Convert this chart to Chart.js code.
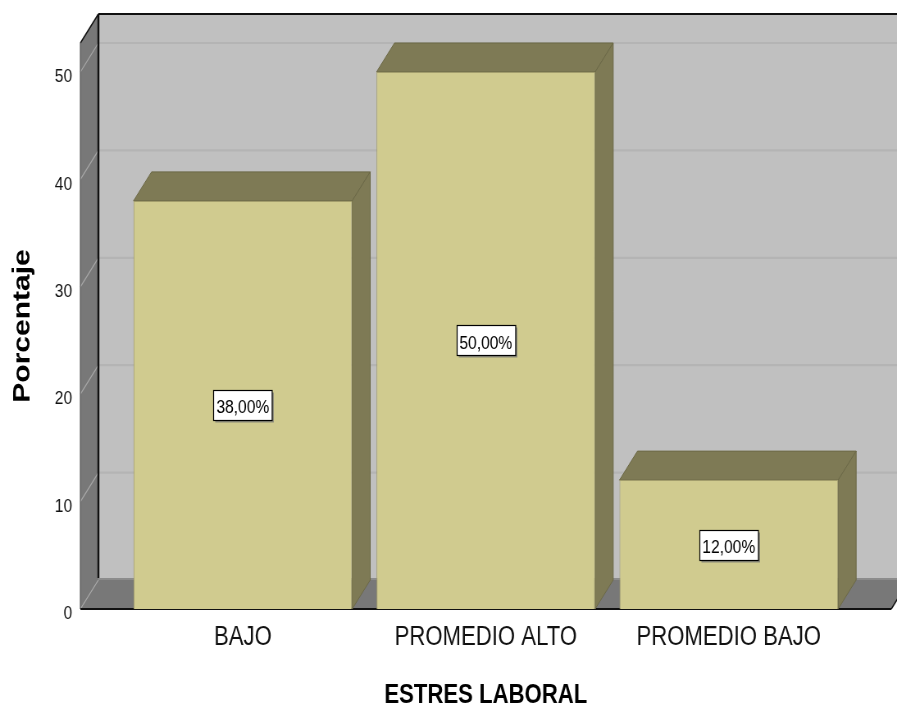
<!DOCTYPE html>
<html lang="es">
<head>
<meta charset="UTF-8">
<title>Estres laboral</title>
<script src="https://cdn.jsdelivr.net/npm/chart.js@4"></script>
<style>
  body { margin: 0; background: #fff; }
  #stressChart { display: block; }
</style>
</head>
<body>
<!-- drawn wide and shown narrower, which gives the condensed SPSS-style lettering -->
<canvas id="stressChart" width="1094" height="709" style="width:897px;height:709px"></canvas>
<script>
const categories = ['BAJO', 'PROMEDIO ALTO', 'PROMEDIO BAJO'];
const percentages = [38, 50, 12];
const yTicks = [0, 10, 20, 30, 40, 50];
const yAxisMax = 52.7;

const FONT = "'Liberation Sans', Arial, sans-serif";
const DX = 22, DY = 29, FRAME_PAD = 50;
const FRONT = '#d0cb8f', SHADE = '#7e7a55';
const WALL = '#c0c0c0', SIDE_WALL = '#787878';

function poly(ctx, pts, fill, stroke) {
  ctx.beginPath();
  ctx.moveTo(pts[0][0], pts[0][1]);
  for (let i = 1; i < pts.length; i++) ctx.lineTo(pts[i][0], pts[i][1]);
  ctx.closePath();
  ctx.fillStyle = fill;
  ctx.fill();
  if (stroke) { ctx.strokeStyle = stroke; ctx.lineWidth = 1; ctx.stroke(); }
}

function line(ctx, x1, y1, x2, y2, color, w) {
  ctx.beginPath();
  ctx.moveTo(x1, y1);
  ctx.lineTo(x2, y2);
  ctx.strokeStyle = color;
  ctx.lineWidth = w;
  ctx.stroke();
}

// walls, floor and the shaded faces of each bar
const box3d = {
  id: 'box3d',
  beforeDatasetsDraw(chart) {
    const { ctx, chartArea: a, scales: { y } } = chart;
    const fl = a.left - FRAME_PAD, fr = a.right + FRAME_PAD;
    const top = a.top, bot = a.bottom;
    const far = chart.width + 10;
    ctx.save();

    ctx.fillStyle = WALL;
    ctx.fillRect(fl + DX, top - DY, far - fl, bot - top);
    y.ticks.forEach(t => {
      if (t.value === 0) return;
      const py = y.getPixelForValue(t.value) - DY;
      line(ctx, fl + DX, py, far, py, '#b4b4b4', 2.2);
    });

    poly(ctx, [[fl, top], [fl + DX, top - DY], [fl + DX, bot - DY], [fl, bot]], SIDE_WALL);
    poly(ctx, [[fl, bot], [fl + DX, bot - DY], [fr + DX, bot - DY], [fr, bot]], SIDE_WALL);
    line(ctx, fl + DX, bot - DY - 1, far, bot - DY - 1, '#8c8c8c', 2);

    y.ticks.forEach(t => {
      const py = y.getPixelForValue(t.value);
      line(ctx, fl, py, fl + DX, py - DY, '#a8a8a8', 1.2);
    });

    line(ctx, fl + DX, top - DY, far, top - DY, '#111', 2);
    line(ctx, fl + DX, top - DY, fl + DX, bot - DY - 2, '#111', 2.4);
    line(ctx, fl, top, fl + DX, top - DY, '#111', 1.5);
    line(ctx, fl, top, fl, bot, '#555', 1.2);
    line(ctx, fl, bot, fr, bot, '#111', 2);
    line(ctx, fr, bot, fr + DX, bot - DY, '#111', 1.5);

    chart.getDatasetMeta(0).data.forEach(bar => {
      const l = bar.x - bar.width / 2, r = bar.x + bar.width / 2;
      poly(ctx, [[l, bar.y], [l + DX, bar.y - DY], [r + DX, bar.y - DY], [r, bar.y]], SHADE, '#6c6947');
      poly(ctx, [[r, bar.y], [r + DX, bar.y - DY], [r + DX, bar.base - DY], [r, bar.base]], SHADE, '#6c6947');
    });
    ctx.restore();
  },
  afterDatasetsDraw(chart) {
    const { ctx } = chart;
    const values = chart.data.datasets[0].data;
    ctx.save();
    ctx.font = '19px ' + FONT;
    ctx.textAlign = 'center';
    ctx.textBaseline = 'middle';
    chart.getDatasetMeta(0).data.forEach((bar, i) => {
      const text = values[i].toFixed(2).replace('.', ',') + '%';
      const w = ctx.measureText(text).width + 7, h = 30;
      const cx = bar.x, cy = (bar.y + bar.base) / 2;
      const bx = Math.round(cx - w / 2) + 0.5, by = Math.round(cy - h / 2) + 0.5;
      ctx.fillStyle = '#8a8a7a';
      ctx.fillRect(bx + 2, by + 2, w, h);
      ctx.fillStyle = '#fff';
      ctx.fillRect(bx, by, w, h);
      ctx.strokeStyle = '#000';
      ctx.lineWidth = 1.2;
      ctx.strokeRect(bx, by, w, h);
      ctx.fillStyle = '#000';
      ctx.fillText(text, cx, cy + 3);
    });
    ctx.restore();
  }
};

new Chart(document.getElementById('stressChart'), {
  type: 'bar',
  data: {
    labels: categories,
    datasets: [{
      data: percentages,
      backgroundColor: FRONT,
      borderColor: '#a29d6c',
      borderWidth: 1,
      categoryPercentage: 0.9,
      barPercentage: 1.0
    }]
  },
  options: {
    responsive: false,
    animation: false,
    devicePixelRatio: 1,
    layout: { padding: { top: 43, right: 57, bottom: 0, left: 0 } },
    plugins: {
      legend: { display: false },
      tooltip: { enabled: false }
    },
    scales: {
      x: {
        grid: { display: false, drawTicks: false },
        border: { display: false },
        ticks: { color: '#111', font: { family: FONT, size: 27 }, padding: 12 },
        title: {
          display: true,
          text: 'ESTRES LABORAL',
          color: '#000',
          font: { family: FONT, size: 27, weight: 'bold', lineHeight: 1 },
          padding: { top: 0, bottom: 0 }
        },
        afterFit: s => { s.height = 100; }
      },
      y: {
        min: 0,
        max: yAxisMax,
        grid: { display: false, drawTicks: false },
        border: { display: false },
        afterBuildTicks: s => { s.ticks = yTicks.map(v => ({ value: v })); },
        ticks: { color: '#111', font: { family: FONT, size: 19 }, padding: 60, labelOffset: 5 },
        title: {
          display: true,
          text: 'Porcentaje',
          color: '#000',
          font: { family: FONT, size: 30, weight: 'bold' },
          padding: { top: 10, bottom: 0 }
        },
        // fixed axis width; the tick padding should not push the plot down
        afterFit: s => {
          s.width = 148;
          s.paddingTop = 0;
          s.paddingBottom = 0;
        }
      }
    }
  },
  plugins: [box3d]
});
</script>
</body>
</html>
